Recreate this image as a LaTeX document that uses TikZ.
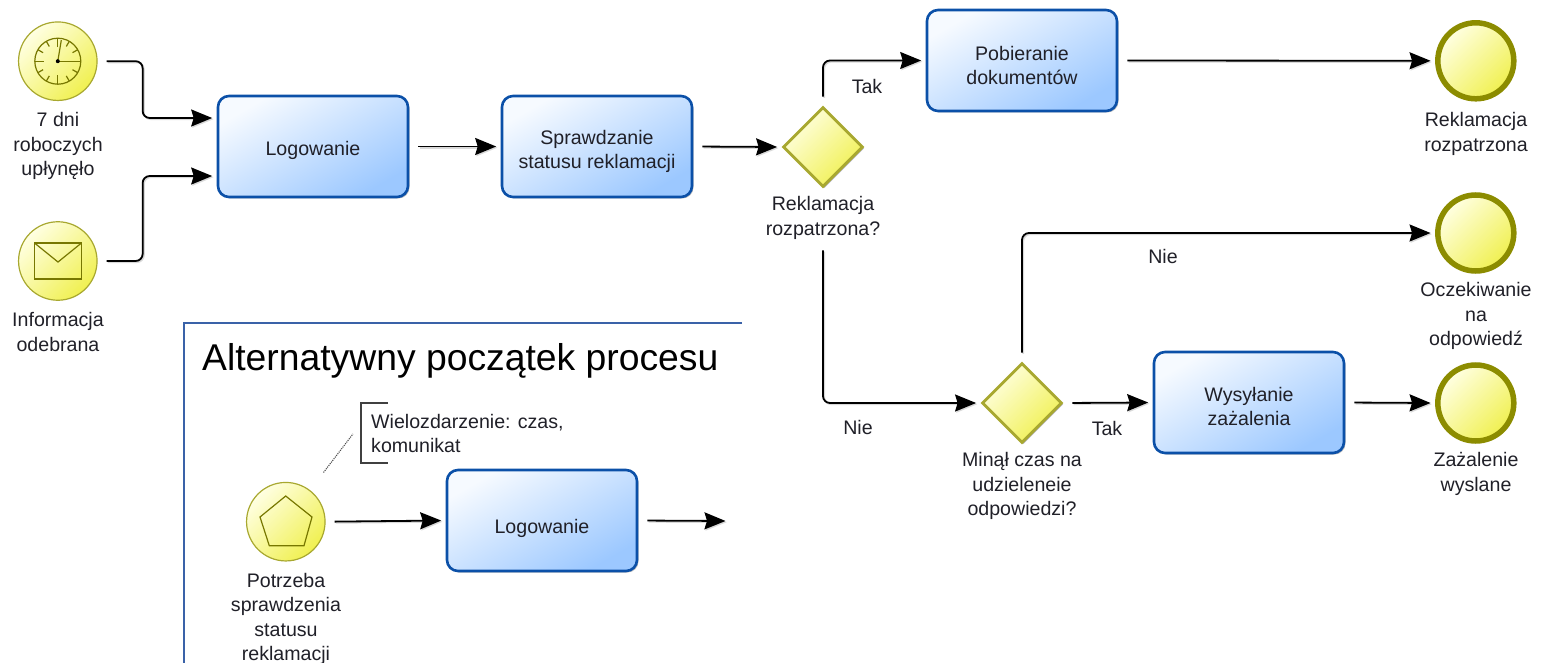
\documentclass[tikz,border=0pt]{standalone}
\usepackage{fontspec}
\setmainfont{Liberation Sans}
\usetikzlibrary{arrows.meta,shapes.geometric,shadows,positioning}
\definecolor{txt}{HTML}{202028}
\definecolor{boxline}{HTML}{0B50A8}
\definecolor{boxa}{HTML}{F6FAFF}
\definecolor{boxb}{HTML}{9CC8FF}
\definecolor{yela}{HTML}{FFFFE2}
\definecolor{yelb}{HTML}{F0F050}
\definecolor{olive}{HTML}{A8A830}
\definecolor{olived}{HTML}{8C8C00}
\definecolor{frameblue}{HTML}{3A62A8}
\newcommand{\lowr}[1]{\rule{0pt}{#1pt}}
\tikzset{
  every node/.style={font=\fontsize{19.6}{24.4}\selectfont,text=txt,inner sep=0pt},
  taskbox/.style={rectangle,rounded corners=11pt,draw=boxline,line width=2.6pt,
    minimum width=190pt,minimum height=101pt,align=center,
    left color=boxa,right color=boxb,shading angle=30,
    drop shadow={shadow xshift=1.5pt,shadow yshift=-1.5pt,opacity=.25,fill=black}},
  startev/.style={circle,draw=olive,line width=1.2pt,minimum size=78.5pt,
    left color=yela,right color=yelb,shading angle=45},
  endev/.style={circle,draw=olived,line width=5.5pt,minimum size=76pt,
    left color=yela,right color=yelb,shading angle=45},
  gate/.style={diamond,aspect=1,draw=olive,line width=2.8pt,minimum size=80pt,
    left color=yela,right color=yelb,shading angle=45,
    drop shadow={shadow xshift=1.5pt,shadow yshift=-1.5pt,opacity=.3,fill=black}},
  lab/.style={align=center},
  glyph/.style={draw=olived!85!black,line width=1.2pt},
  conn/.style={draw=black,line width=1.8pt,rounded corners=7pt,
    -{Stealth[length=21pt,width=17pt,inset=2.5pt]},shorten <=9pt,shorten >=4.5pt,
    preaction={draw=black!15,line width=1.8pt,transform canvas={shift={(1.2pt,-1.2pt)}}}},
}
\begin{document}
\begin{tikzpicture}[x=1pt,y=-1pt]
\useasboundingbox (0,0) rectangle (1541,663);
% frame
\coordinate (fa) at (742,323);
\coordinate (fb) at (184,323);
\coordinate (fc) at (184,663);
\draw[frameblue,line width=1.6pt] (fa) -- (fb) -- (fc);
\node[anchor=west,font=\fontsize{37.3}{44}\selectfont,text=black] (title) at (202,360.5) {Alternatywny początek procesu};
% events
\node[startev] (timer) at (57.8,61.2) {};
\node[startev] (msg) at (57.8,261) {};
\node[startev] (multi) at (285.8,521.7) {};
\node[endev] (e1) at (1475.8,60.8) {};
\node[endev] (e2) at (1475.8,233) {};
\node[endev] (e3) at (1475.8,403) {};
% tasks
\node[taskbox] (log) at (313,146.5) {\lowr{23}Logowanie};
\node[taskbox] (spr) at (597,146.5) {\lowr{24}Sprawdzanie\\statusu reklamacji};
\node[taskbox] (pob) at (1022,60.5) {\lowr{24}Pobieranie\\dokumentów};
\node[taskbox] (wys) at (1249,402.5) {\lowr{22}Wysyłanie\\zażalenia};
\node[taskbox] (log2) at (542,520.5) {\lowr{30}Logowanie};
% gateways
\node[gate] (d1) at (823,147) {};
\node[gate] (d2) at (1022,403) {};
% clock glyph
\foreach \a in {0,90,180,270}{\draw[glyph] (timer.center)++(\a:14) -- ++(\a:9);}
\foreach \a in {30,60,120,150,210,240,300,330}{\draw[glyph] (timer.center)++(\a:17) -- ++(\a:6);}
\draw[glyph] (timer.center) circle (23pt);
\draw[glyph] (timer.center) -- ++(22,0);
\draw[glyph] (timer.center) -- ++(3.5,-21);
\fill[black] (timer.center) circle (2pt);
% envelope glyph
\draw[glyph] (34.5,243) rectangle (81.5,279);
\draw[glyph] (34.5,243) -- (58,262) -- (81.5,243);
% pentagon glyph
\draw[glyph] (285.7,496) -- (312,517) -- (304,545.7) -- (269.3,545.7) -- (260,517) -- cycle;
% labels
\node[lab] (l1) at (58,146) {7 dni\\roboczych\\upłynęło};
\node[lab] (l2) at (58,332) {Informacja\\odebrana};
\node[lab] (l3) at (286,619) {Potrzeba\\sprawdzenia\\statusu\\reklamacji};
\node[lab] (l4) at (823,218) {Reklamacja\\rozpatrzona?};
\node[lab] (l5) at (1022,486) {Minął czas na\\udzieleneie\\odpowiedzi?};
\node[lab] (l6) at (1476,134) {Reklamacja\\rozpatrzona};
\node[lab] (l7) at (1476,316) {Oczekiwanie\\na\\odpowiedź};
\node[lab] (l8) at (1476,474) {Zażalenie\\wyslane};
\node[lab] (t1) at (867,86) {Tak};
\node[lab] (n1) at (858,427) {Nie};
\node[lab] (n2) at (1163,256) {Nie};
\node[lab] (t2) at (1107,428) {Tak};
% annotation
\node[anchor=west,align=left] (note) at (371,433.5) {Wielozdarzenie: czas,\\komunikat};
\coordinate (na) at (388,403);
\coordinate (nb) at (361,403);
\coordinate (nc) at (361,463);
\coordinate (nd) at (388,463);
\draw[black!75,line width=1.2pt] (na) -- (nb) -- (nc) -- (nd);
\coordinate (nt) at (356,430);
\draw[black!70,line width=1.1pt,densely dotted,shorten <=62pt,shorten >=5pt] (multi.center) -- (nt);
% connectors
\draw[conn] (timer.east) -- ++(45,0) |- ([yshift=28.5pt]log.west);
\draw[conn] (msg.east) -- ++(45,0) |- ([yshift=-29.5pt]log.west);
\draw[conn] (log.east) -- (spr.west);
\draw[conn] (spr.east) -- (d1.west);
\draw[conn] (d1.north) |- (pob.west);
\draw[conn] (pob.east) -- (e1.west);
\draw[conn,shorten <=62pt] (d1.south) |- (d2.west);
\draw[conn] (d2.north) |- (e2.west);
\draw[conn] (d2.east) -- (wys.west);
\draw[conn] (wys.east) -- (e3.west);
\draw[conn] (multi.east) -- (log2.west);
\coordinate (out) at (730,521);
\draw[conn] (log2.east) -- (out);
\end{tikzpicture}
\end{document}
